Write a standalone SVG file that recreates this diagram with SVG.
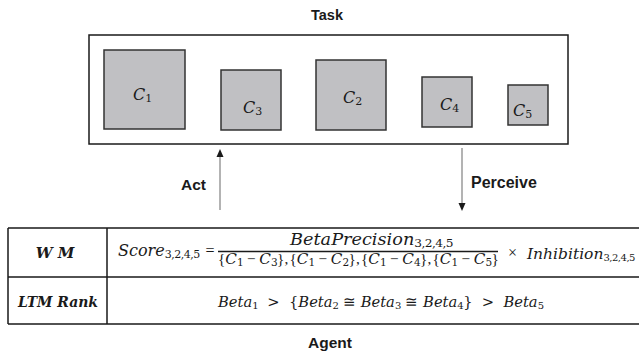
<svg xmlns="http://www.w3.org/2000/svg" width="639" height="356" viewBox="0 0 639 356">
  <defs>
    <style>
      .lbl{font-family:"Liberation Sans",Arial,sans-serif;font-weight:bold;fill:#1a1a1a}
      .m{font-family:"DejaVu Serif","Liberation Serif",serif;fill:#1a1a1a}
      .i{font-style:italic}
      .s{font-style:normal;letter-spacing:-0.5px}
      .o{font-family:"Liberation Serif",serif;font-style:normal}
      .bi{font-family:"DejaVu Serif","Liberation Serif",serif;font-style:italic;font-weight:bold;fill:#1a1a1a}
      .cb{fill:#c0c0c3;stroke:#333;stroke-width:1.5}
      .ln{stroke:#1a1a1a;stroke-width:1.5;fill:none}
      .arr{stroke:#8a8a8a;stroke-width:1.3;fill:none}
      .hd{fill:#1a1a1a}
    </style>
  </defs>
  <rect width="639" height="356" fill="#ffffff"/>

  <!-- Task environment -->
  <g id="task">
    <text class="lbl" x="327" y="20" font-size="14.5" text-anchor="middle">Task</text>
    <rect class="ln" x="89" y="35" width="479" height="109"/>
  </g>
  <g id="c1">
    <rect class="cb" x="104" y="50" width="81" height="79"/>
    <text class="m" x="133" y="100" font-size="16"><tspan class="i">C</tspan><tspan class="s" font-size="11" dy="2">1</tspan></text>
  </g>
  <g id="c3">
    <rect class="cb" x="221" y="70" width="60" height="60"/>
    <text class="m" x="243" y="113" font-size="16"><tspan class="i">C</tspan><tspan class="s" font-size="11" dy="2">3</tspan></text>
  </g>
  <g id="c2">
    <rect class="cb" x="316" y="60" width="70" height="70"/>
    <text class="m" x="343" y="103" font-size="16"><tspan class="i">C</tspan><tspan class="s" font-size="11" dy="2">2</tspan></text>
  </g>
  <g id="c4">
    <rect class="cb" x="422" y="77" width="50" height="50"/>
    <text class="m" x="440" y="110" font-size="16"><tspan class="i">C</tspan><tspan class="s" font-size="11" dy="2">4</tspan></text>
  </g>
  <g id="c5">
    <rect class="cb" x="508" y="85" width="40" height="40"/>
    <text class="m" x="513" y="116" font-size="16"><tspan class="i">C</tspan><tspan class="s" font-size="11" dy="2">5</tspan></text>
  </g>

  <!-- Act / Perceive connectors -->
  <g id="connectors">
    <line class="arr" x1="220" y1="210" x2="220" y2="156"/>
    <path class="hd" d="M220,149 L216.5,157 L223.5,157 Z"/>
    <line class="arr" x1="462" y1="148" x2="462" y2="204"/>
    <path class="hd" d="M462,211 L458.5,203 L465.5,203 Z"/>
    <text class="lbl" x="181" y="190" font-size="15.5">Act</text>
    <text class="lbl" x="471" y="188" font-size="16">Perceive</text>
  </g>

  <!-- Agent table -->
  <g id="agent">
    <path class="ln" d="M8,228 H639 M8,277 H639 M8,324 H639 M8,228 V324 M107,228 V324"/>
    <text class="bi" x="55" y="258" font-size="15" text-anchor="middle">W M</text>
    <text class="bi" x="18" y="307" font-size="14" textLength="80" lengthAdjust="spacingAndGlyphs">LTM Rank</text>
  </g>

  <g id="wm-formula">
    <text class="m" x="118" y="256" font-size="16"><tspan class="i">Score</tspan><tspan class="s" font-size="11" dy="2">3,2,4,5</tspan></text>
    <text class="m o" x="210" y="256" font-size="16" text-anchor="middle">=</text>
    <text class="m" x="290" y="245" font-size="16" textLength="163" lengthAdjust="spacingAndGlyphs"><tspan class="i">BetaPrecision</tspan><tspan class="s" font-size="11" dy="2">3,2,4,5</tspan></text>
    <line class="ln" x1="218" y1="251.5" x2="498" y2="251.5"/>
    <text class="m" y="263.5" font-size="15.2" xml:space="preserve"><tspan class="o" x="218">{</tspan><tspan class="i">C</tspan><tspan class="s" font-size="10.5" dy="2">1</tspan><tspan class="o" dy="-2"> − </tspan><tspan class="i">C</tspan><tspan class="s" font-size="10.5" dy="2">3</tspan><tspan class="o" dy="-2">},</tspan><tspan class="o" x="289.5">{</tspan><tspan class="i">C</tspan><tspan class="s" font-size="10.5" dy="2">1</tspan><tspan class="o" dy="-2"> − </tspan><tspan class="i">C</tspan><tspan class="s" font-size="10.5" dy="2">2</tspan><tspan class="o" dy="-2">},</tspan><tspan class="o" x="361">{</tspan><tspan class="i">C</tspan><tspan class="s" font-size="10.5" dy="2">1</tspan><tspan class="o" dy="-2"> − </tspan><tspan class="i">C</tspan><tspan class="s" font-size="10.5" dy="2">4</tspan><tspan class="o" dy="-2">},</tspan><tspan class="o" x="432.5">{</tspan><tspan class="i">C</tspan><tspan class="s" font-size="10.5" dy="2">1</tspan><tspan class="o" dy="-2"> − </tspan><tspan class="i">C</tspan><tspan class="s" font-size="10.5" dy="2">5</tspan><tspan class="o" dy="-2">}</tspan></text>
    <text class="m o" x="512.5" y="258" font-size="16" text-anchor="middle">×</text>
    <text class="m" x="527" y="259" font-size="15.5"><tspan class="i">Inhibition</tspan><tspan class="s" font-size="10" letter-spacing="-0.8" dy="2">3,2,4,5</tspan></text>
  </g>

  <g id="ltm-rank">
    <text class="m" x="218" y="307" font-size="14.7" xml:space="preserve"><tspan class="i">Beta</tspan><tspan class="s" font-size="10" dy="2">1</tspan><tspan dy="-2">  &gt;  {</tspan><tspan class="i">Beta</tspan><tspan class="s" font-size="10" dy="2">2</tspan><tspan dy="-2"> ≅ </tspan><tspan class="i">Beta</tspan><tspan class="s" font-size="10" dy="2">3</tspan><tspan dy="-2"> ≅ </tspan><tspan class="i">Beta</tspan><tspan class="s" font-size="10" dy="2">4</tspan><tspan dy="-2">}  &gt;  </tspan><tspan class="i">Beta</tspan><tspan class="s" font-size="10" dy="2">5</tspan></text>
  </g>

  <text class="lbl" x="330" y="348" font-size="15.5" text-anchor="middle">Agent</text>
</svg>
